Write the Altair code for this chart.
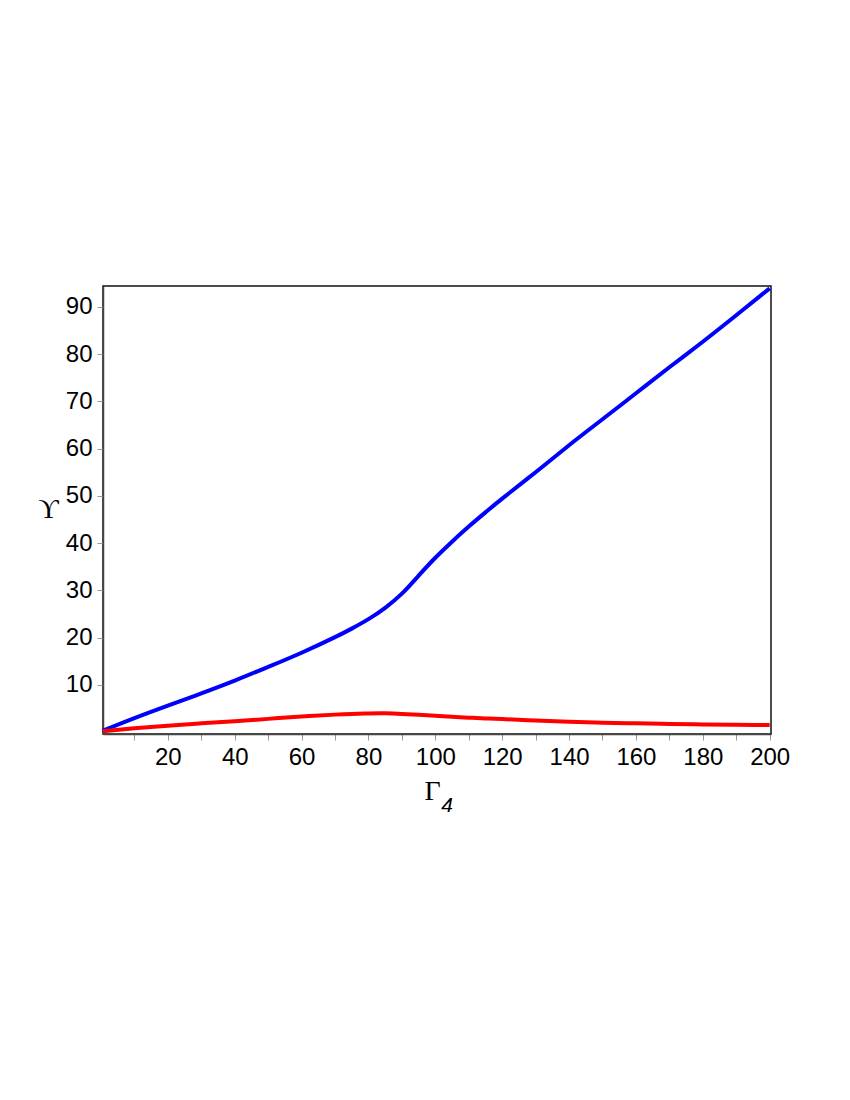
import altair as alt
import pandas as pd

# Data
gamma4 = [0.6, 10, 20, 30, 40, 50, 60, 70, 75, 80, 85, 90, 95, 100, 105, 110,
          115, 120, 130, 140, 150, 160, 170, 180, 190, 200]
blue_vals = [0.3, 2.95, 5.6, 8.2, 10.9, 13.8, 16.8, 20.1, 21.9, 23.9, 26.3, 29.3,
             33.1, 36.9, 40.3, 43.5, 46.5, 49.4, 55.0, 60.7, 66.2, 71.7, 77.2,
             82.6, 88.2, 93.9]
red_vals = [0.2, 0.8, 1.35, 1.85, 2.3, 2.8, 3.3, 3.7, 3.85, 3.95, 3.97, 3.85,
            3.65, 3.45, 3.25, 3.05, 2.9, 2.75, 2.45, 2.2, 2.0, 1.85, 1.72, 1.62,
            1.54, 1.48]
series_names = ["blue", "red"]
series_colors = ["#0000ff", "#ff0000"]
x_ticks = list(range(10, 201, 10))
y_ticks = list(range(10, 91, 10))

rows = []
for name, vals in zip(series_names, [blue_vals, red_vals]):
    for xv, yv in zip(gamma4, vals):
        rows.append({"x": xv, "y": yv, "series": name})
df = pd.DataFrame(rows)

lines = alt.Chart(df).mark_line(strokeWidth=4, interpolate="natural").encode(
    x=alt.X(
        "x:Q",
        scale=alt.Scale(domain=[0.6, 200.4], nice=False, zero=False),
        axis=alt.Axis(
            values=x_ticks,
            labelExpr="datum.value % 20 == 0 ? datum.label : ''",
            title="Γ",
            titleFont="Liberation Serif",
            titleFontSize=28,
            titleFontWeight="normal",
            titleColor="black",
            titleX=329,
            titleY=65,
            titleBaseline="alphabetic",
            grid=False,
            labelFont="Liberation Sans",
            labelFontSize=24,
            labelColor="black",
            labelPadding=5,
            tickSize=6,
            tickColor="#999999",
            domainColor="#444444",
            domainWidth=1.5,
        ),
    ),
    y=alt.Y(
        "y:Q",
        scale=alt.Scale(domain=[-0.4, 94.4], nice=False, zero=False),
        axis=alt.Axis(
            values=y_ticks,
            title="ϒ",
            titleAngle=0,
            titleFont="Liberation Serif",
            titleFontSize=28,
            titleFontWeight="normal",
            titleColor="black",
            titleX=-55,
            titleY=231,
            titleAlign="center",
            titleBaseline="alphabetic",
            grid=False,
            labelFont="Liberation Sans",
            labelFontSize=24,
            labelColor="black",
            labelPadding=5,
            tickSize=6,
            tickColor="#999999",
            domainColor="#444444",
            domainWidth=1.5,
        ),
    ),
    color=alt.Color(
        "series:N",
        scale=alt.Scale(domain=series_names, range=series_colors),
        legend=None,
    ),
    detail="series:N",
)

sub = alt.Chart(pd.DataFrame({"t": ["4"]})).mark_text(
    font="Liberation Sans",
    fontSize=21,
    fontStyle="italic",
    align="center",
    baseline="alphabetic",
    color="black",
).encode(text="t:N", x=alt.value(344), y=alt.value(526))

chart = (
    alt.layer(lines, sub)
    .properties(
        width=668,
        height=448,
        background="white",
        autosize=alt.AutoSizeParams(type="none"),
        padding={"left": 95, "top": 278, "right": 50, "bottom": 110},
    )
    .configure_view(stroke="#111111", strokeWidth=1.5)
)

chart.save("out.html", embed_options={"renderer": "svg", "actions": False})
